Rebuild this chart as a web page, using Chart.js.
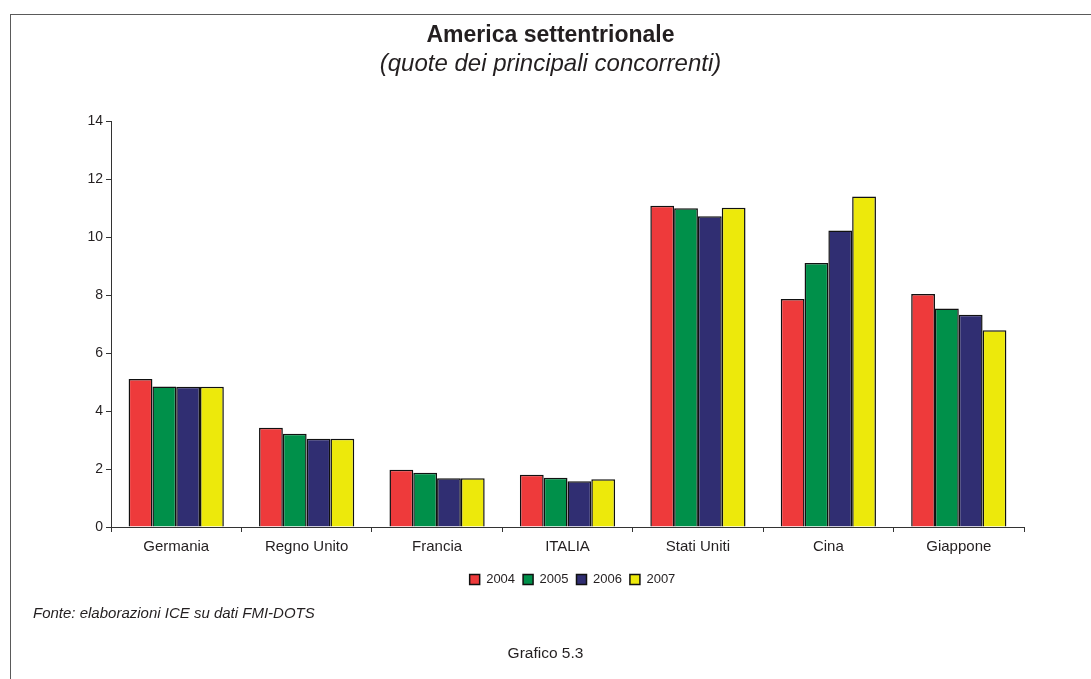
<!DOCTYPE html>
<html>
<head>
<meta charset="utf-8">
<script src="https://cdn.jsdelivr.net/npm/chart.js@4/dist/chart.umd.min.js"></script>
<style>
  html, body { margin: 0; padding: 0; background: #fff; }
  body { width: 1091px; height: 679px; position: relative; overflow: hidden; font-family: "Liberation Sans", Arial, sans-serif; color: #231f20; }
  #frame { position: absolute; left: 10px; top: 14px; width: 1100px; height: 700px; border: 1px solid #5a5a5a; box-sizing: border-box; }
  #wrap { position: absolute; left: 0; top: 0; width: 1091px; height: 679px; }
  #fonte { position: absolute; left: 33px; top: 604px; font-size: 15px; font-style: italic; }
  #grafico { position: absolute; left: 0; width: 1091px; top: 644px; text-align: center; font-size: 15.5px; }
</style>
</head>
<body>
<div id="frame"></div>
<div id="wrap"><canvas id="chart" width="1091" height="679"></canvas></div>
<div id="fonte">Fonte: elaborazioni ICE su dati FMI-DOTS</div>
<div id="grafico">Grafico 5.3</div>
<script>
var categories = ['Germania', 'Regno Unito', 'Francia', 'ITALIA', 'Stati Uniti', 'Cina', 'Giappone'];
var years = ['2004', '2005', '2006', '2007'];
var v2004 = [5.11, 3.43, 1.98, 1.80, 11.09, 7.87, 8.04];
var v2005 = [4.85, 3.22, 1.87, 1.70, 11.00, 9.11, 7.54];
var v2006 = [4.84, 3.05, 1.68, 1.58, 10.73, 10.23, 7.33];
var v2007 = [4.84, 3.05, 1.68, 1.65, 11.02, 11.41, 6.79];
var yTicks = [0, 2, 4, 6, 8, 10, 12, 14];

var colors = ['#ee3a3b', '#00904a', '#302e72', '#ede90b'];
var series = [v2004, v2005, v2006, v2007];

var datasets = [];
for (var i = 0; i < years.length; i++) {
    datasets.push({
        label: years[i],
        data: series[i],
        backgroundColor: colors[i],
        borderColor: '#111',
        borderWidth: 1.5,
        categoryPercentage: 0.73,
        barPercentage: 1.0
    });
}

// legend sits a bit right of the centre in the original
var shiftLegend = {
    id: 'shiftLegend',
    afterLayout: function(chart) {
        chart.legend.left += 22;
        chart.legend.right += 22;
    }
};

var ctx = document.getElementById('chart').getContext('2d');
var myChart = new Chart(ctx, {
    type: 'bar',
    data: { labels: categories, datasets: datasets },
    plugins: [shiftLegend],
    options: {
        responsive: false,
        animation: false,
        layout: { padding: { left: 10, right: 0, top: 0, bottom: 83 } },
        plugins: {
            title: {
                display: true,
                text: 'America settentrionale',
                color: '#231f20',
                font: { family: 'Liberation Sans', size: 23, weight: 'bold' },
                padding: { top: 22, bottom: 0 }
            },
            subtitle: {
                display: true,
                text: '(quote dei principali concorrenti)',
                color: '#231f20',
                font: { family: 'Liberation Sans', size: 24, style: 'italic' },
                padding: { top: 0, bottom: 43 }
            },
            legend: {
                position: 'bottom',
                labels: {
                    boxWidth: 10,
                    boxHeight: 10,
                    padding: 8,
                    color: '#231f20',
                    font: { family: 'Liberation Sans', size: 13 }
                }
            },
            tooltip: { enabled: false }
        },
        scales: {
            x: {
                grid: { display: true, drawOnChartArea: false, drawTicks: true, tickLength: 5, color: '#333' },
                border: { color: '#333', width: 1 },
                ticks: { color: '#231f20', padding: 6, font: { family: 'Liberation Sans', size: 15 } },
                afterFit: function(scale) { scale.height = 38; }
            },
            y: {
                min: 0,
                max: 14,
                grid: { display: true, drawOnChartArea: false, drawTicks: true, tickLength: 5, color: '#333' },
                border: { color: '#333', width: 1 },
                afterBuildTicks: function(scale) {
                    scale.ticks = yTicks.map(function(v) { return { value: v }; });
                },
                ticks: { color: '#231f20', padding: 3, font: { family: 'Liberation Sans', size: 14 } },
                afterFit: function(scale) { scale.width = 101; }
            },
            yRight: {
                position: 'right',
                display: true,
                grid: { display: false },
                border: { display: false },
                ticks: { display: false },
                afterFit: function(scale) { scale.width = 67; }
            }
        }
    }
});
</script>
</body>
</html>
